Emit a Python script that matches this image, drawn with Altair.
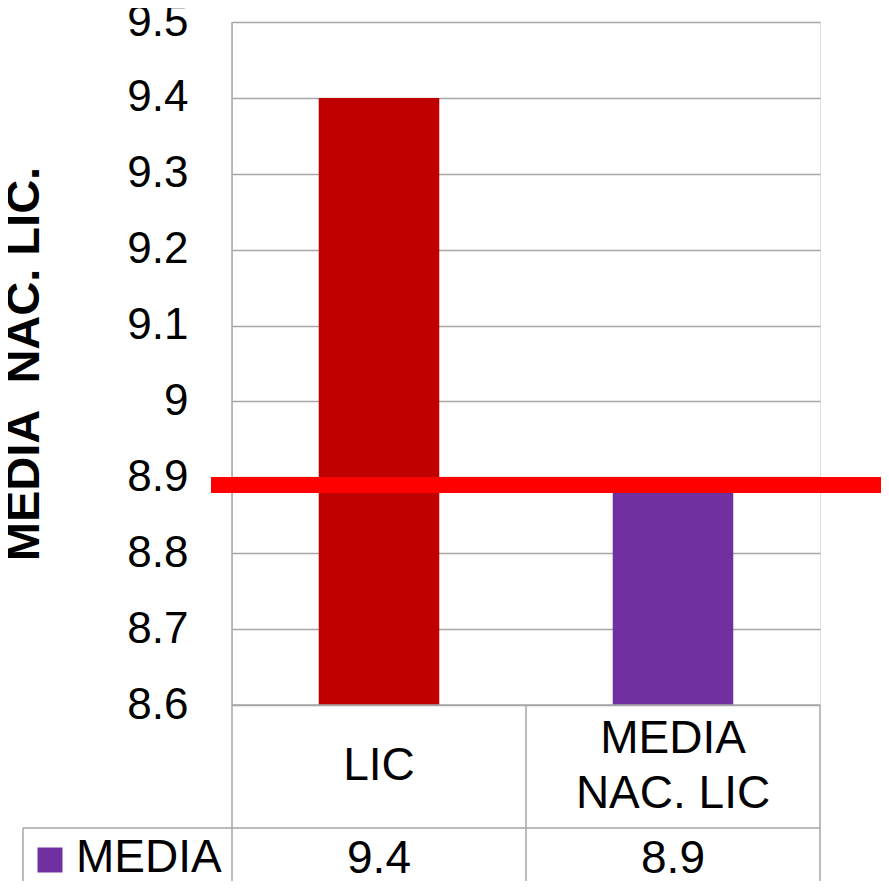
import altair as alt
import pandas as pd

# ---- data ----
categories = ["LIC", "MEDIA\nNAC. LIC"]
values = [9.4, 8.88]
bar_colors = ["#C00000", "#7030A0"]
series_name = "MEDIA"
series_color = "#7030A0"
target_value = [8.89]
y_ticks = [8.6, 8.7, 8.8, 8.9, 9.0, 9.1, 9.2, 9.3, 9.4, 9.5]
y_title = "MEDIA\u00a0 NAC. LIC."

df = pd.DataFrame({"cat": categories, "value": values, "color": bar_colors})
df_target = pd.DataFrame({"value": target_value})
df_series = pd.DataFrame({"s": [series_name]})

W, H = 588, 683
GRID = "#A6A6A6"
FONT = "Liberation Sans"
LINE_H = 55

x_enc = alt.X("cat:N", sort=categories, axis=None,
              scale=alt.Scale(paddingInner=0, paddingOuter=0))
y_scale = alt.Scale(domain=[8.6, 9.5], zero=False, nice=False)

base = alt.Chart(df)

bars = base.mark_bar(width=alt.RelativeBandSize(0.41), clip=True).encode(
    x=x_enc,
    y=alt.Y("value:Q", scale=y_scale, axis=alt.Axis(
        values=y_ticks,
        labelExpr="format(datum.value, '.1~f')",
        labelFontSize=44, labelColor="black", labelPadding=44, labelFont=FONT,
        ticks=False, domain=False,
        grid=True, gridColor=GRID, gridWidth=1.5,
        title=y_title, titleFontSize=47, titleFontWeight="bold", titleColor="black",
        titleFont=FONT, titleAngle=270, titleX=-208, titleY=H / 2,
        titleAlign="center", titleBaseline="middle")),
    color=alt.Color("color:N", scale=None),
)

target = alt.Chart(df_target).mark_rule(color="#FF0000", strokeWidth=16).encode(
    y=alt.Y("value:Q"),
    x=alt.value(-21), x2=alt.value(660),
)

cat_text = base.transform_calculate(
    off=f"-(length(split(datum.cat, '\\n')) - 1) * {LINE_H / 2}"
).mark_text(lineBreak="\n", fontSize=46, baseline="middle",
            align="center", lineHeight=LINE_H, color="black").encode(
    x=x_enc, y=alt.value(744), yOffset=alt.YOffset("off:Q", scale=None),
    text="cat:N")

val_text = base.mark_text(fontSize=46, baseline="middle", align="center",
                          color="black").encode(
    x=x_enc, y=alt.value(837), text=alt.Text("value:Q", format=".1f"))

legend_sq = alt.Chart(df_series).mark_square(size=625, color=series_color,
                                            opacity=1).encode(
    x=alt.value(-182), y=alt.value(838))
legend_txt = alt.Chart(df_series).mark_text(align="left", baseline="middle",
                                           fontSize=46, color="black").encode(
    x=alt.value(-156), y=alt.value(836), text="s:N")

def hline(x1, x2, y):
    return alt.Chart(df_series).mark_rule(color=GRID, strokeWidth=1.5).encode(
        x=alt.value(x1), x2=alt.value(x2), y=alt.value(y))

def vline(x, y1, y2):
    return alt.Chart(df_series).mark_rule(color=GRID, strokeWidth=1.5).encode(
        x=alt.value(x), y=alt.value(y1), y2=alt.value(y2))

lines = [
    hline(0, W, H),          # x baseline
    hline(-209, W, 806),     # table row divider
    vline(0, 0, 870),        # y axis line through table
    vline(W / 2, H, 870),
    vline(W, H, 870),
    vline(-209, 806, 870),
]

chart = alt.layer(bars, *lines, target, cat_text, val_text, legend_sq, legend_txt).properties(
    width=W, height=H,
    autosize=alt.AutoSizeParams(type="none"),
    padding={"left": 224, "top": 14, "right": 61, "bottom": 176},
).configure_view(stroke="transparent").configure(font=FONT)

chart.save("out.html", embed_options={"renderer": "svg", "actions": False})
